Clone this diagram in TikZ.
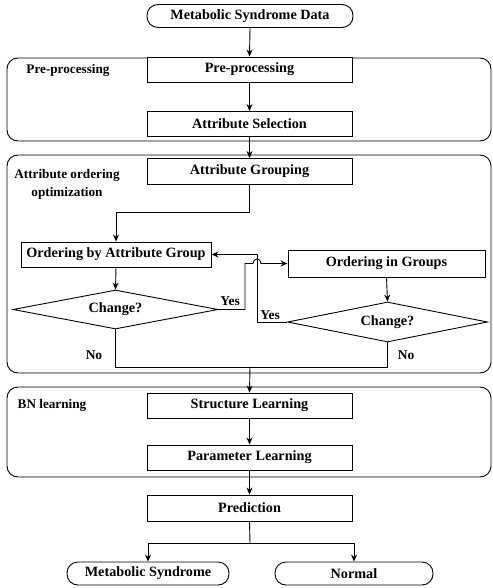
\documentclass[tikz,border=0pt]{standalone}
\usepackage{fontspec}
\setmainfont{Liberation Serif}
\usetikzlibrary{shapes.geometric,arrows.meta}
\begin{document}
\begin{tikzpicture}[x=1pt,y=-1pt,
  every node/.style={font=\fontsize{14.2}{16}\selectfont\bfseries},
  line/.style={line width=0.9pt},
  arr/.style={line width=0.9pt,-{Stealth[length=7pt,width=6pt]}},
  procbox/.style={draw,line width=0.9pt,rectangle,minimum width=205pt,minimum height=25pt,inner sep=0pt},
  termbox/.style={draw,line width=0.9pt,rectangle,rounded corners=11pt,minimum height=23pt,inner sep=0pt},
  groupbox/.style={draw,line width=0.9pt,rounded corners=11pt},
  decision/.style={draw,line width=0.9pt,diamond,aspect=5,inner sep=0pt},
  grplabel/.style={font=\fontsize{13.2}{18}\selectfont\bfseries,align=center},
  ynlabel/.style={font=\fontsize{13.5}{16}\selectfont\bfseries}]
\useasboundingbox (0,0) rectangle (492,588);
% groups
\draw[groupbox] (7,58) rectangle (491,141);
\draw[groupbox] (7,155) rectangle (491,373);
\draw[groupbox] (7,387) rectangle (491,477);
\node[grplabel] (lab1) at (68,70) {Pre-processing};
\node[grplabel] (lab2) at (67,184) {Attribute ordering\\optimization};
\node[grplabel] (lab3) at (52,405) {BN learning};
% nodes
\node[termbox,minimum width=206pt] (data) at (250,16) {Metabolic Syndrome Data};
\node[procbox,fill=white] (pre) at (249.5,69.5) {Pre-processing};
\node[procbox] (sel) at (249.5,124) {Attribute Selection};
\node[procbox,minimum height=26pt,fill=white] (grp) at (249.5,171.5) {Attribute Grouping};
\node[procbox,minimum width=190pt] (obag) at (116,254.5) {Ordering by Attribute Group};
\node[procbox,minimum width=197pt,minimum height=27pt] (oig) at (386.5,263.5) {Ordering in Groups};
\node[decision,minimum width=205pt,minimum height=39pt] (d1) at (115.5,309.5) {Change?};
\node[decision,minimum width=200pt,minimum height=40pt] (d2) at (387.5,322) {Change?};
\node[procbox,fill=white] (str) at (249.5,405.5) {Structure Learning};
\node[procbox] (par) at (249.5,457.5) {Parameter Learning};
\node[procbox,minimum height=26pt] (pred) at (249.5,508) {Prediction};
\node[termbox,minimum width=162pt] (ms) at (148,573.5) {Metabolic Syndrome};
\node[termbox,minimum width=158pt] (nor) at (354,573.5) {Normal};
% connectors
\draw[arr] (data.south) -- (pre.north);
\draw[arr] (pre.south) -- (sel.north);
\draw[arr] (sel.south) -- (grp.north);
\draw[arr] (grp.south) -- ++(0,27) -| (obag.north);
\draw[arr] (obag.south) -- (d1.north);
\draw[arr] (oig.south) -- (d2.north);
\coordinate (yes1a) at (245,309.5);
\coordinate (yes1b) at (245,263.5);
\draw[arr] (d1.east) -- (yes1a) -- (yes1b) -- (253,263.5)
  .. controls (253,257.5) and (261,257.5) .. (261,263.5) -- (oig.west);
\coordinate (yes2a) at (257,322);
\coordinate (yes2b) at (257,254.5);
\draw[arr] (d2.west) -- (yes2a) -- (yes2b) -- (obag.east);
\coordinate (merge) at (250,367);
\draw[line] (d1.south) -- (d1.south |- merge) -- (d2.south |- merge) -- (d2.south);
\draw[arr] (merge) -- (str.north);
\draw[arr] (str.south) -- (par.north);
\draw[arr] (par.south) -- (pred.north);
\coordinate (split) at (250,543);
\draw[line] (pred.south) -- (split);
\draw[arr] (split) -| (ms.north);
\draw[arr] (split) -| (nor.north);
% labels
\node[ynlabel] (yl1) at (230,301) {Yes};
\node[ynlabel] (yl2) at (270,315) {Yes};
\node[ynlabel] (nl1) at (94,355) {No};
\node[ynlabel] (nl2) at (406,355) {No};
\end{tikzpicture}
\end{document}
